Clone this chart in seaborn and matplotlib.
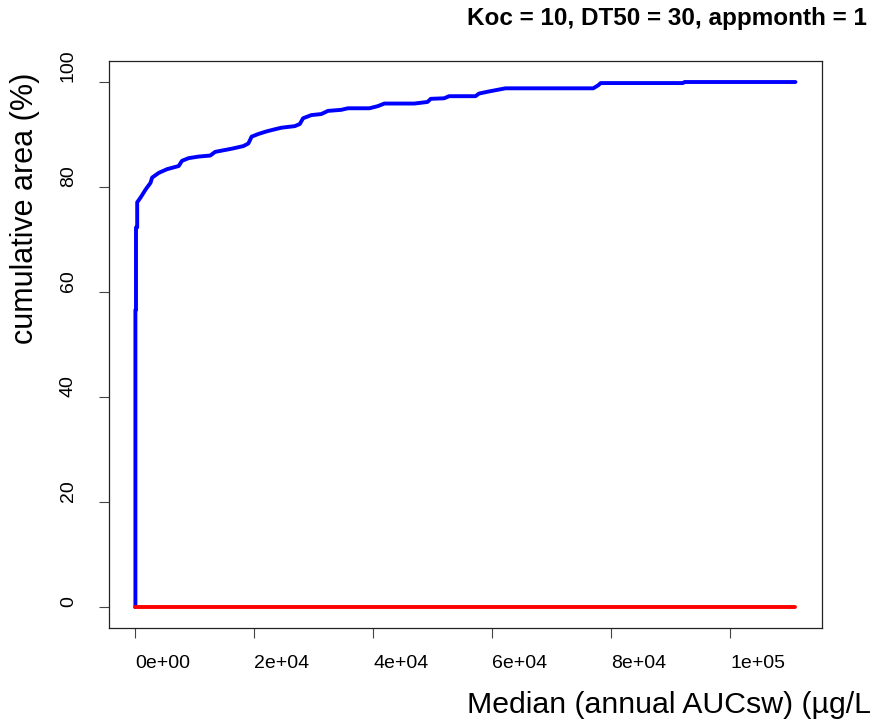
import numpy as np
import pandas as pd
import matplotlib
matplotlib.use('Agg')
import matplotlib.pyplot as plt
import seaborn as sns

# Values
blue_x = [0, 0, 100, 100, 300, 300, 870, 1700, 2540, 2810, 3930,
          5320, 7280, 7840, 8950, 10630, 12590, 13420, 16200, 18160, 19000,
          19550, 20670, 22060, 23460, 24570, 26810, 27650, 28200, 29590, 31260,
          32380, 34610, 35730, 39360, 40750, 41870, 46900, 49120, 49670, 51920,
          52750, 57200, 57770, 59450, 60840, 62230, 77000, 77860, 78240, 92080,
          92350, 111000]
blue_y = [0, 56.6, 56.6, 72.3, 72.3, 77.1, 78.0, 79.5, 80.8, 81.8, 82.7,
          83.4, 84.0, 85.0, 85.5, 85.8, 86.0, 86.7, 87.3, 87.8, 88.3,
          89.6, 90.1, 90.6, 91.0, 91.3, 91.6, 92.0, 93.1, 93.7, 93.9,
          94.5, 94.7, 95.0, 95.0, 95.4, 95.9, 95.9, 96.2, 96.8, 96.9,
          97.3, 97.3, 97.8, 98.2, 98.5, 98.8, 98.8, 99.4, 99.8, 99.8,
          100, 100]
red_x = [0, 111000]
red_y = [0, 0]

x_ticks = [0, 20000, 40000, 60000, 80000, 100000]
x_tick_labels = ['0e+00', '2e+04', '4e+04', '6e+04', '8e+04', '1e+05']
y_ticks = [0, 20, 40, 60, 80, 100]
y_tick_labels = ['0', '20', '40', '60', '80', '100']

title = 'Koc = 10, DT50 = 30, appmonth = 1'
# the reference cuts the x label at the right edge after "L"
xlab = 'Median (annual AUCsw) (µg/L'
ylab = 'cumulative area (%)'

sns.set_style('ticks')
plt.rcParams['font.family'] = ['Liberation Sans', 'DejaVu Sans']
plt.rcParams['text.color'] = 'black'
plt.rcParams['xtick.color'] = '#444444'
plt.rcParams['ytick.color'] = '#444444'
plt.rcParams['xtick.labelcolor'] = 'black'
plt.rcParams['ytick.labelcolor'] = 'black'

blue_df = pd.DataFrame({'x': blue_x, 'y': blue_y})
red_df = pd.DataFrame({'x': red_x, 'y': red_y})

fig = plt.figure(figsize=(8.79, 7.22), dpi=100)
ax = fig.add_axes([0.124, 0.130, 0.811, 0.7855])

sns.lineplot(data=blue_df, x='x', y='y', ax=ax, color='#0000ff',
             linewidth=2.8, sort=False, estimator=None)
sns.lineplot(data=red_df, x='x', y='y', ax=ax, color='#ff0000',
             linewidth=2.8, sort=False, estimator=None)

# R style 4% padding
xr = max(blue_x) - min(blue_x)
ax.set_xlim(min(blue_x) - 0.04 * xr, max(blue_x) + 0.04 * xr)
ax.set_ylim(-4, 104)

ax.set_xticks(x_ticks)
ax.set_xticklabels(x_tick_labels, ha='left', fontsize=14)
ax.set_yticks(y_ticks)
ax.set_yticklabels(y_tick_labels, rotation=90, va='bottom', fontsize=14)
ax.tick_params(axis='x', length=7.2, width=0.8, pad=12)
ax.tick_params(axis='y', length=7.2, width=0.8, pad=16)
ax.set_xlabel('')
ax.set_ylabel('')

for s in ax.spines.values():
    s.set_visible(True)
    s.set_color('#222222')
    s.set_linewidth(0.9)

fig.text(0.531, 0.974, title, ha='left', va='center', fontsize=17.5,
         fontweight='bold')
fig.text(0.531, 0.024, xlab, ha='left', va='center', fontsize=21.8)
fig.text(0.028, 0.523, ylab, rotation=90, ha='center', va='bottom',
         fontsize=22)

fig.savefig('out.png', dpi=100)
